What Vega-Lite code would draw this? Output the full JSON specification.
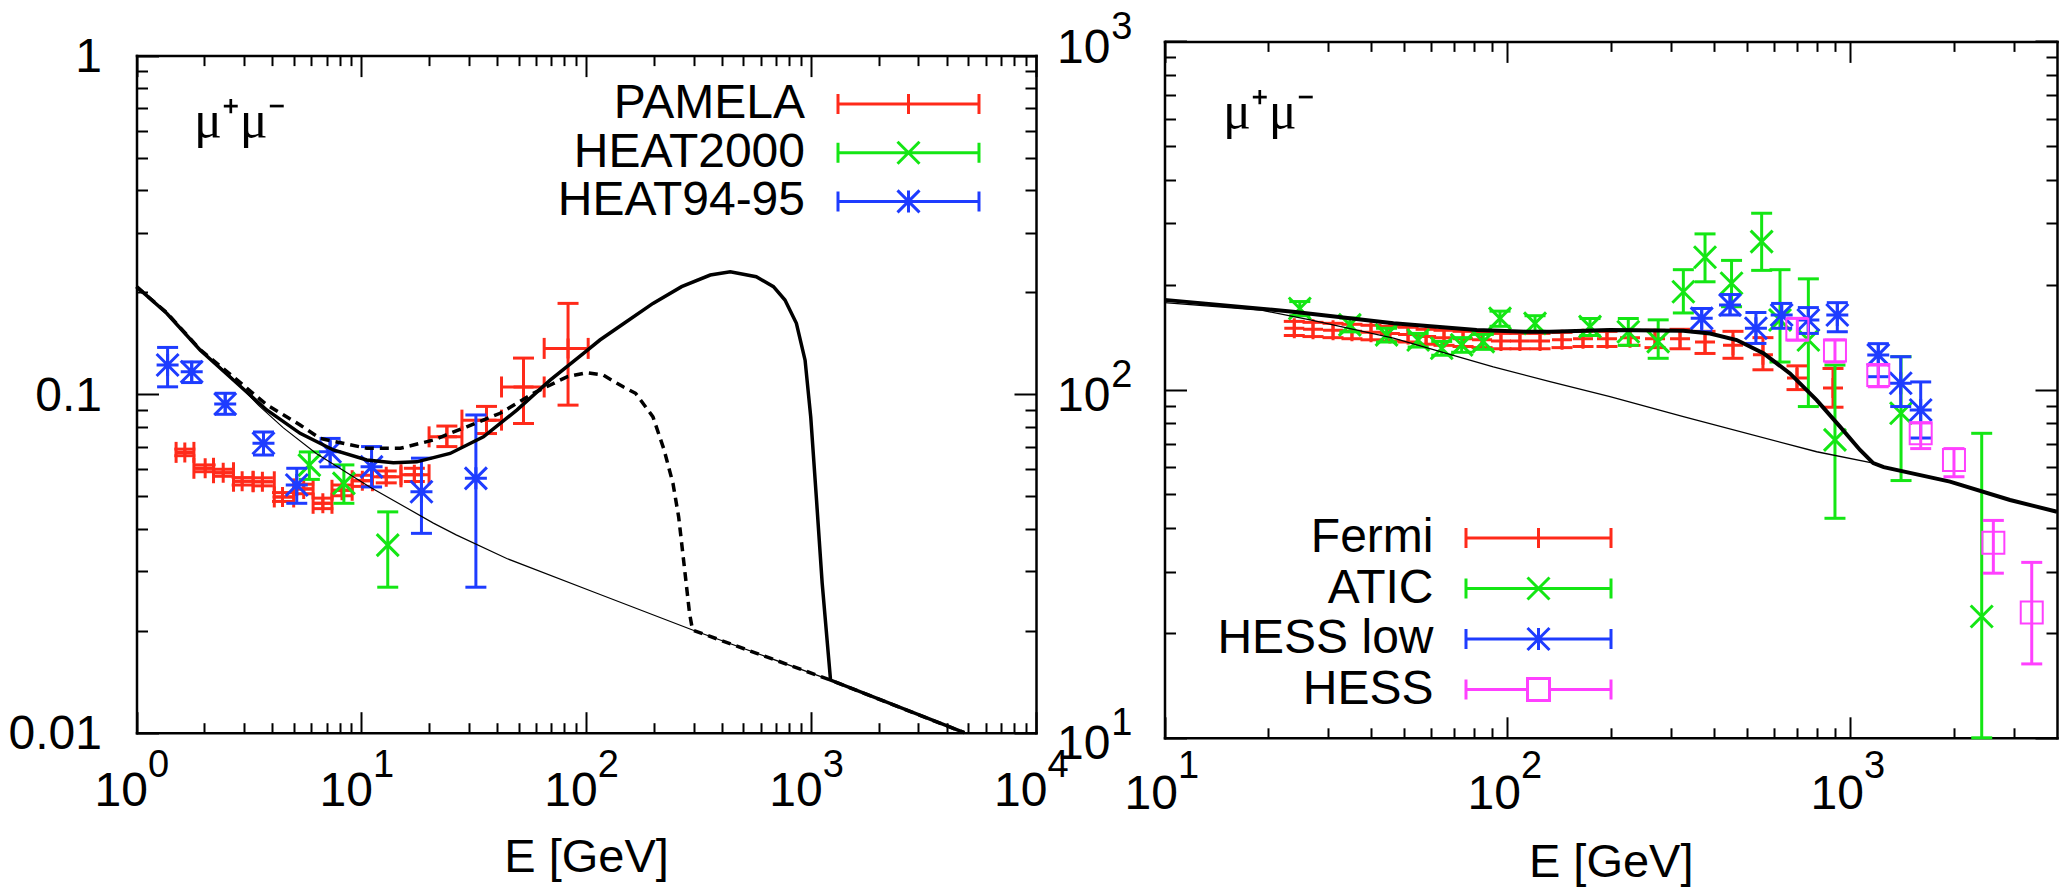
{
  "$schema": "https://vega.github.io/schema/vega-lite/v6.json",
  "width": 2059,
  "height": 890,
  "autosize": {"type": "none"},
  "padding": 0,
  "background": "white",
  "config": {
    "view": {"stroke": null},
    "axis": {
      "grid": false,
      "labelFont": "Liberation Sans",
      "labelColor": "black",
      "tickColor": "black",
      "domainColor": "black",
      "labelFlush": false,
      "labelOverlap": false,
      "titleFont": "Liberation Sans",
      "titleColor": "black",
      "titleFontWeight": "normal"
    }
  },
  "datasets": {
    "pamela": [
      {"E": 1.64, "y": 0.0673, "Elo": 1.5, "Ehi": 1.8, "ylo": 0.0658, "yhi": 0.0688},
      {"E": 2.02, "y": 0.0604, "Elo": 1.8, "Ehi": 2.2, "ylo": 0.059, "yhi": 0.0618},
      {"E": 2.43, "y": 0.0586, "Elo": 2.2, "Ehi": 2.7, "ylo": 0.0572, "yhi": 0.06},
      {"E": 2.95, "y": 0.0553, "Elo": 2.7, "Ehi": 3.3, "ylo": 0.0539, "yhi": 0.0567},
      {"E": 3.63, "y": 0.0551, "Elo": 3.3, "Ehi": 4.1, "ylo": 0.0536, "yhi": 0.0566},
      {"E": 4.46, "y": 0.0497, "Elo": 4.1, "Ehi": 5.0, "ylo": 0.0482, "yhi": 0.0512},
      {"E": 5.54, "y": 0.0525, "Elo": 5.0, "Ehi": 6.1, "ylo": 0.0508, "yhi": 0.0542},
      {"E": 6.74, "y": 0.0476, "Elo": 6.1, "Ehi": 7.4, "ylo": 0.0459, "yhi": 0.0493},
      {"E": 8.2, "y": 0.052, "Elo": 7.4, "Ehi": 9.1, "ylo": 0.0501, "yhi": 0.0539},
      {"E": 10.1, "y": 0.0555, "Elo": 9.1, "Ehi": 11.2, "ylo": 0.0534, "yhi": 0.0576},
      {"E": 12.9, "y": 0.057, "Elo": 11.2, "Ehi": 15.0, "ylo": 0.0547, "yhi": 0.0593},
      {"E": 17.2, "y": 0.0578, "Elo": 15.0, "Ehi": 20.0, "ylo": 0.0552, "yhi": 0.0604},
      {"E": 24.0, "y": 0.0748, "Elo": 20.0, "Ehi": 28.0, "ylo": 0.07, "yhi": 0.0805},
      {"E": 36.0, "y": 0.0838, "Elo": 28.0, "Ehi": 42.0, "ylo": 0.0765, "yhi": 0.092},
      {"E": 52.6, "y": 0.105, "Elo": 42.0, "Ehi": 65.0, "ylo": 0.0819, "yhi": 0.1278},
      {"E": 83.0, "y": 0.1365, "Elo": 65.0, "Ehi": 102.0, "ylo": 0.0928, "yhi": 0.1854}
    ],
    "heat2000": [
      {"E": 5.87, "y": 0.0617, "ylo": 0.056, "yhi": 0.0675},
      {"E": 8.36, "y": 0.0545, "ylo": 0.0476, "yhi": 0.0618},
      {"E": 13.1, "y": 0.0358, "ylo": 0.0269, "yhi": 0.0449}
    ],
    "heat9495": [
      {"E": 1.375, "y": 0.1219, "ylo": 0.1051, "yhi": 0.1374},
      {"E": 1.76, "y": 0.1165, "ylo": 0.1082, "yhi": 0.1245},
      {"E": 2.48, "y": 0.0935, "ylo": 0.0872, "yhi": 0.1006},
      {"E": 3.67, "y": 0.0716, "ylo": 0.0661, "yhi": 0.0773},
      {"E": 5.16, "y": 0.0539, "ylo": 0.0476, "yhi": 0.0604},
      {"E": 7.26, "y": 0.0676, "ylo": 0.061, "yhi": 0.074},
      {"E": 11.1, "y": 0.061, "ylo": 0.0532, "yhi": 0.07},
      {"E": 18.5, "y": 0.0515, "ylo": 0.0388, "yhi": 0.0647},
      {"E": 32.3, "y": 0.0564, "ylo": 0.0269, "yhi": 0.0868}
    ],
    "leftThin": [
      {"E": 1.0, "y": 0.208}, {"E": 1.36, "y": 0.173}, {"E": 1.92, "y": 0.135},
      {"E": 2.6, "y": 0.1135}, {"E": 3.5, "y": 0.0925}, {"E": 4.5, "y": 0.0795},
      {"E": 6.3, "y": 0.0668}, {"E": 10.85, "y": 0.0533}, {"E": 20.9, "y": 0.0416},
      {"E": 26.4, "y": 0.0384}, {"E": 44.3, "y": 0.0327}, {"E": 110, "y": 0.0259},
      {"E": 297, "y": 0.0201}, {"E": 1220, "y": 0.0143}, {"E": 4800, "y": 0.01}
    ],
    "leftThick": [
      {"E": 1.0, "y": 0.2077}, {"E": 1.362, "y": 0.1733}, {"E": 1.917, "y": 0.135},
      {"E": 2.696, "y": 0.1101}, {"E": 3.795, "y": 0.0898}, {"E": 5.34, "y": 0.0766},
      {"E": 7.51, "y": 0.0684}, {"E": 10.57, "y": 0.0639}, {"E": 13.88, "y": 0.0627},
      {"E": 17.64, "y": 0.0631}, {"E": 24.8, "y": 0.0668}, {"E": 34.9, "y": 0.0748},
      {"E": 49.1, "y": 0.0897}, {"E": 69.1, "y": 0.11}, {"E": 97.2, "y": 0.132},
      {"E": 115, "y": 0.1445}, {"E": 147.4, "y": 0.1619}, {"E": 198, "y": 0.1854},
      {"E": 265.5, "y": 0.2077}, {"E": 356, "y": 0.2248}, {"E": 437, "y": 0.2299},
      {"E": 570, "y": 0.2222}, {"E": 680, "y": 0.2077}, {"E": 765, "y": 0.1897},
      {"E": 860, "y": 0.1619}, {"E": 940, "y": 0.126}, {"E": 996, "y": 0.0857},
      {"E": 1057, "y": 0.0486}, {"E": 1120, "y": 0.0276}, {"E": 1220, "y": 0.0143},
      {"E": 4800, "y": 0.01}
    ],
    "leftDashed": [
      {"E": 1.0, "y": 0.2077}, {"E": 1.362, "y": 0.174}, {"E": 1.917, "y": 0.1355},
      {"E": 2.696, "y": 0.1125}, {"E": 3.795, "y": 0.093}, {"E": 5.34, "y": 0.0811},
      {"E": 6.55, "y": 0.074}, {"E": 10.57, "y": 0.0692}, {"E": 14.9, "y": 0.0692},
      {"E": 20.9, "y": 0.0732}, {"E": 29.4, "y": 0.0801}, {"E": 41.4, "y": 0.0878},
      {"E": 58.2, "y": 0.1006}, {"E": 82, "y": 0.1125}, {"E": 100.5, "y": 0.1157},
      {"E": 119, "y": 0.1138}, {"E": 146, "y": 0.1051}, {"E": 165.7, "y": 0.1006},
      {"E": 198, "y": 0.0857}, {"E": 222, "y": 0.0684}, {"E": 243, "y": 0.0545},
      {"E": 257.6, "y": 0.0434}, {"E": 273, "y": 0.0309}, {"E": 288, "y": 0.0225},
      {"E": 297, "y": 0.0201}, {"E": 1220, "y": 0.0143}, {"E": 4800, "y": 0.01}
    ],
    "fermi": [
      {"E": 23.9, "y": 150, "ylo": 143, "yhi": 157},
      {"E": 27.1, "y": 149, "ylo": 142, "yhi": 156},
      {"E": 31.0, "y": 148, "ylo": 141, "yhi": 155},
      {"E": 35.2, "y": 147, "ylo": 140, "yhi": 154},
      {"E": 40.0, "y": 146, "ylo": 139, "yhi": 153},
      {"E": 45.4, "y": 145, "ylo": 138, "yhi": 152},
      {"E": 51.3, "y": 144, "ylo": 137, "yhi": 151},
      {"E": 57.9, "y": 142, "ylo": 135, "yhi": 149},
      {"E": 65.3, "y": 141, "ylo": 134, "yhi": 148},
      {"E": 74.2, "y": 140, "ylo": 133, "yhi": 147},
      {"E": 84.3, "y": 139, "ylo": 132, "yhi": 146},
      {"E": 95.7, "y": 138, "ylo": 131, "yhi": 145},
      {"E": 108.7, "y": 138, "ylo": 131, "yhi": 145},
      {"E": 124.4, "y": 138, "ylo": 131, "yhi": 145},
      {"E": 144.2, "y": 139, "ylo": 132, "yhi": 146},
      {"E": 166.0, "y": 140, "ylo": 133, "yhi": 147},
      {"E": 195.0, "y": 140, "ylo": 133, "yhi": 147},
      {"E": 227.6, "y": 141, "ylo": 134, "yhi": 148},
      {"E": 269.2, "y": 140, "ylo": 132, "yhi": 148},
      {"E": 318.4, "y": 140, "ylo": 131, "yhi": 149},
      {"E": 376.6, "y": 137, "ylo": 127, "yhi": 147},
      {"E": 454.4, "y": 134, "ylo": 123, "yhi": 147},
      {"E": 555.6, "y": 126, "ylo": 114, "yhi": 141},
      {"E": 698.3, "y": 108, "ylo": 100, "yhi": 117},
      {"E": 889.2, "y": 101, "ylo": 89, "yhi": 115}
    ],
    "atic": [
      {"E": 24.8, "y": 171, "ylo": 163, "yhi": 179},
      {"E": 34.7, "y": 153.4, "ylo": 146.5, "yhi": 160.5},
      {"E": 44.4, "y": 143.6, "ylo": 137, "yhi": 150},
      {"E": 54.9, "y": 138.8, "ylo": 132.5, "yhi": 145},
      {"E": 64.3, "y": 131.5, "ylo": 125.5, "yhi": 137.5},
      {"E": 73.5, "y": 134.4, "ylo": 128, "yhi": 141},
      {"E": 85.0, "y": 137.3, "ylo": 130.5, "yhi": 144},
      {"E": 95.1, "y": 160.1, "ylo": 152, "yhi": 168},
      {"E": 120.3, "y": 155, "ylo": 147, "yhi": 163},
      {"E": 174, "y": 151.6, "ylo": 143, "yhi": 160},
      {"E": 225, "y": 146.6, "ylo": 134, "yhi": 160},
      {"E": 275, "y": 137.3, "ylo": 123, "yhi": 158.6},
      {"E": 325.6, "y": 191, "ylo": 166, "yhi": 221},
      {"E": 376.6, "y": 240, "ylo": 204, "yhi": 280},
      {"E": 450, "y": 202, "ylo": 173, "yhi": 235},
      {"E": 550.8, "y": 266, "ylo": 220, "yhi": 321},
      {"E": 623, "y": 158.5, "ylo": 120, "yhi": 221},
      {"E": 753.6, "y": 138.8, "ylo": 89.4, "yhi": 208},
      {"E": 901, "y": 71.7, "ylo": 42.7, "yhi": 117.6},
      {"E": 1404, "y": 85.5, "ylo": 54.8, "yhi": 124.3},
      {"E": 2413, "y": 22.3, "ylo": 10, "yhi": 74.9}
    ],
    "hesslow": [
      {"E": 368.3, "y": 160.2, "ylo": 146.7, "yhi": 171},
      {"E": 445.4, "y": 175, "ylo": 163.8, "yhi": 187.5},
      {"E": 530, "y": 150, "ylo": 135.7, "yhi": 166.5},
      {"E": 630, "y": 163.8, "ylo": 150, "yhi": 176.8},
      {"E": 753.6, "y": 158.5, "ylo": 145, "yhi": 172},
      {"E": 915.3, "y": 163.8, "ylo": 146.6, "yhi": 177.7},
      {"E": 1205, "y": 125.8, "ylo": 108.9, "yhi": 135.5},
      {"E": 1401, "y": 104.3, "ylo": 89.4, "yhi": 124.3},
      {"E": 1602, "y": 87.4, "ylo": 72.6, "yhi": 105.2}
    ],
    "hess": [
      {"E": 699.8, "y": 148.9, "ylo": 138.8, "yhi": 160.2},
      {"E": 901, "y": 129.4, "ylo": 120, "yhi": 138.8},
      {"E": 1205, "y": 110.2, "ylo": 101.9, "yhi": 117.6},
      {"E": 1602, "y": 74.9, "ylo": 67.7, "yhi": 80.2},
      {"E": 2003, "y": 62.8, "ylo": 56.2, "yhi": 67.7},
      {"E": 2609, "y": 36.3, "ylo": 29.7, "yhi": 42.1},
      {"E": 3376, "y": 22.9, "ylo": 16.3, "yhi": 31.9}
    ],
    "rightThin": [
      {"E": 10, "y": 177.8}, {"E": 19.0, "y": 169.3}, {"E": 26.6, "y": 158.5},
      {"E": 46.5, "y": 140.5}, {"E": 90.9, "y": 116.3}, {"E": 133, "y": 105.4},
      {"E": 199, "y": 95.4}, {"E": 325.6, "y": 83.6}, {"E": 797, "y": 66.3},
      {"E": 1165, "y": 61.5}, {"E": 1250, "y": 59.9}, {"E": 1950, "y": 54.4},
      {"E": 2918, "y": 48.2}, {"E": 4000, "y": 44.6}
    ],
    "rightThick": [
      {"E": 10, "y": 181}, {"E": 23.7, "y": 167.4}, {"E": 46.5, "y": 155.1},
      {"E": 81.3, "y": 148.3}, {"E": 113.8, "y": 146.6}, {"E": 133, "y": 146.6},
      {"E": 199, "y": 148.3}, {"E": 325.6, "y": 147.6}, {"E": 389.4, "y": 144.9},
      {"E": 466, "y": 138.8}, {"E": 557, "y": 127.2}, {"E": 666, "y": 111.3},
      {"E": 797, "y": 93.3}, {"E": 932, "y": 78.3}, {"E": 1066, "y": 67.1},
      {"E": 1165, "y": 61.5}, {"E": 1250, "y": 59.9}, {"E": 1950, "y": 54.4},
      {"E": 2918, "y": 48.2}, {"E": 4000, "y": 44.6}
    ],
    "leftSeries": [{"series": "PAMELA"}, {"series": "HEAT2000"}, {"series": "HEAT94-95"}],
    "rightSeries": [{"series": "Fermi"}, {"series": "ATIC"}, {"series": "HESS low"}, {"series": "HESS"}],
    "channel": [{"label": "μ⁺μ⁻"}]
  },
  "resolve": {
    "scale": {"x": "independent", "y": "independent", "color": "independent", "shape": "independent"},
    "axis": {"x": "independent", "y": "independent"},
    "legend": {"color": "independent", "shape": "independent"}
  },
  "layer": [
    {
      "resolve": {"axis": {"x": "independent", "y": "independent"}},
      "layer": [
        {
          "data": {"name": "pamela"},
          "mark": {"type": "rule", "color": "#ff2a1a", "strokeWidth": 3},
          "encoding": {
            "x": {"field": "Elo", "type": "quantitative", "scale": {"type": "log", "domain": [1, 10000], "range": [136.5, 1036], "nice": false}, "axis": null},
            "x2": {"field": "Ehi"},
            "y": {"field": "y", "type": "quantitative", "scale": {"type": "log", "domain": [0.01, 1], "range": [732.7, 55.6], "nice": false}, "axis": null}
          }
        },
        {
          "data": {"name": "pamela"},
          "mark": {"type": "rule", "color": "#ff2a1a", "strokeWidth": 3},
          "encoding": {
            "x": {"field": "E", "type": "quantitative", "scale": {"type": "log", "domain": [1, 10000], "range": [136.5, 1036], "nice": false},
              "axis": {"orient": "top", "offset": -55.6, "values": [1,2,3,4,5,6,7,8,9,10,20,30,40,50,60,70,80,90,100,200,300,400,500,600,700,800,900,1000,2000,3000,4000,5000,6000,7000,8000,9000,10000],
                "labels": false, "ticks": true, "tickWidth": 2,
                "tickSize": {"condition": {"test": "abs(log(datum.value)/LN10 - round(log(datum.value)/LN10)) < 0.001", "value": -21}, "value": -10},
                "domain": true, "domainWidth": 2.5, "domainCap": "square", "title": null}},
            "y": {"field": "ylo", "type": "quantitative", "scale": {"type": "log", "domain": [0.01, 1], "range": [732.7, 55.6], "nice": false},
              "axis": {"orient": "right", "offset": -1023, "values": [0.01,0.02,0.03,0.04,0.05,0.06,0.07,0.08,0.09,0.1,0.2,0.3,0.4,0.5,0.6,0.7,0.8,0.9,1],
                "labels": false, "ticks": true, "tickWidth": 2,
                "tickSize": {"condition": {"test": "abs(log(datum.value)/LN10 - round(log(datum.value)/LN10)) < 0.001", "value": -22}, "value": -11},
                "domain": true, "domainWidth": 2.5, "domainCap": "square", "title": null}},
            "y2": {"field": "yhi"}
          }
        },
        {
          "data": {"name": "pamela"},
          "transform": [{"fold": ["Elo", "Ehi"], "as": ["k", "xc"]}],
          "mark": {"type": "tick", "orient": "vertical", "color": "#ff2a1a", "size": 21, "thickness": 3, "opacity": 1},
          "encoding": {
            "x": {"field": "xc", "type": "quantitative", "scale": {"type": "log", "domain": [1, 10000], "range": [136.5, 1036], "nice": false}, "axis": null},
            "y": {"field": "y", "type": "quantitative", "scale": {"type": "log", "domain": [0.01, 1], "range": [732.7, 55.6], "nice": false}, "axis": null}
          }
        },
        {
          "data": {"name": "pamela"},
          "transform": [{"fold": ["ylo", "yhi"], "as": ["k", "yc"]}],
          "mark": {"type": "tick", "orient": "horizontal", "color": "#ff2a1a", "size": 21, "thickness": 3, "opacity": 1},
          "encoding": {
            "x": {"field": "E", "type": "quantitative", "scale": {"type": "log", "domain": [1, 10000], "range": [136.5, 1036], "nice": false}, "axis": null},
            "y": {"field": "yc", "type": "quantitative", "scale": {"type": "log", "domain": [0.01, 1], "range": [732.7, 55.6], "nice": false}, "axis": null}
          }
        },
        {
          "data": {"name": "pamela"},
          "mark": {"type": "point", "shape": "M-1,0L1,0M0,-1L0,1", "size": 400, "filled": false, "color": "#ff2a1a", "strokeWidth": 3, "opacity": 1},
          "encoding": {
            "x": {"field": "E", "type": "quantitative", "scale": {"type": "log", "domain": [1, 10000], "range": [136.5, 1036], "nice": false}, "axis": null},
            "y": {"field": "y", "type": "quantitative", "scale": {"type": "log", "domain": [0.01, 1], "range": [732.7, 55.6], "nice": false}, "axis": null}
          }
        },
        {
          "data": {"name": "heat2000"},
          "mark": {"type": "rule", "color": "#14e614", "strokeWidth": 3},
          "encoding": {
            "x": {"field": "E", "type": "quantitative", "scale": {"type": "log", "domain": [1, 10000], "range": [136.5, 1036], "nice": false}, "axis": null},
            "y": {"field": "ylo", "type": "quantitative", "scale": {"type": "log", "domain": [0.01, 1], "range": [732.7, 55.6], "nice": false}, "axis": null},
            "y2": {"field": "yhi"}
          }
        },
        {
          "data": {"name": "heat2000"},
          "transform": [{"fold": ["ylo", "yhi"], "as": ["k", "yc"]}],
          "mark": {"type": "tick", "orient": "horizontal", "color": "#14e614", "size": 21, "thickness": 3, "opacity": 1},
          "encoding": {
            "x": {"field": "E", "type": "quantitative", "scale": {"type": "log", "domain": [1, 10000], "range": [136.5, 1036], "nice": false}, "axis": null},
            "y": {"field": "yc", "type": "quantitative", "scale": {"type": "log", "domain": [0.01, 1], "range": [732.7, 55.6], "nice": false}, "axis": null}
          }
        },
        {
          "data": {"name": "heat2000"},
          "mark": {"type": "point", "shape": "M-1,-1L1,1M-1,1L1,-1", "size": 484, "filled": false, "color": "#14e614", "strokeWidth": 3, "opacity": 1},
          "encoding": {
            "x": {"field": "E", "type": "quantitative", "scale": {"type": "log", "domain": [1, 10000], "range": [136.5, 1036], "nice": false}, "axis": null},
            "y": {"field": "y", "type": "quantitative", "scale": {"type": "log", "domain": [0.01, 1], "range": [732.7, 55.6], "nice": false}, "axis": null}
          }
        },
        {
          "data": {"name": "heat9495"},
          "mark": {"type": "rule", "color": "#1e3cff", "strokeWidth": 3},
          "encoding": {
            "x": {"field": "E", "type": "quantitative", "scale": {"type": "log", "domain": [1, 10000], "range": [136.5, 1036], "nice": false}, "axis": null},
            "y": {"field": "ylo", "type": "quantitative", "scale": {"type": "log", "domain": [0.01, 1], "range": [732.7, 55.6], "nice": false}, "axis": null},
            "y2": {"field": "yhi"}
          }
        },
        {
          "data": {"name": "heat9495"},
          "transform": [{"fold": ["ylo", "yhi"], "as": ["k", "yc"]}],
          "mark": {"type": "tick", "orient": "horizontal", "color": "#1e3cff", "size": 21, "thickness": 3, "opacity": 1},
          "encoding": {
            "x": {"field": "E", "type": "quantitative", "scale": {"type": "log", "domain": [1, 10000], "range": [136.5, 1036], "nice": false}, "axis": null},
            "y": {"field": "yc", "type": "quantitative", "scale": {"type": "log", "domain": [0.01, 1], "range": [732.7, 55.6], "nice": false}, "axis": null}
          }
        },
        {
          "data": {"name": "heat9495"},
          "mark": {"type": "point", "shape": "M-1,0L1,0M0,-1L0,1M-1,-1L1,1M-1,1L1,-1", "size": 484, "filled": false, "color": "#1e3cff", "strokeWidth": 3, "opacity": 1},
          "encoding": {
            "x": {"field": "E", "type": "quantitative", "scale": {"type": "log", "domain": [1, 10000], "range": [136.5, 1036], "nice": false}, "axis": null},
            "y": {"field": "y", "type": "quantitative", "scale": {"type": "log", "domain": [0.01, 1], "range": [732.7, 55.6], "nice": false}, "axis": null}
          }
        },
        {
          "data": {"name": "leftThin"},
          "mark": {"type": "line", "color": "black", "strokeWidth": 1.2},
          "encoding": {
            "x": {"field": "E", "type": "quantitative", "scale": {"type": "log", "domain": [1, 10000], "range": [136.5, 1036], "nice": false},
              "axis": {"orient": "bottom", "offset": -157.3, "values": [1, 10, 100, 1000, 10000], "labelExpr": "'10'",
                "ticks": false, "tickSize": 0, "domain": false, "labelAlign": "right", "labelOffset": 11, "labelBaseline": "alphabetic",
                "labelPadding": 73, "labelFontSize": 48,
                "title": "E [GeV]", "titleX": 586, "titleY": 139, "titleAlign": "center", "titleBaseline": "alphabetic", "titleFontSize": 47, "titleAngle": 0}},
            "y": {"field": "y", "type": "quantitative", "scale": {"type": "log", "domain": [0.01, 1], "range": [732.7, 55.6], "nice": false},
              "axis": {"orient": "left", "offset": -136.5, "values": [0.01, 0.1, 1],
                "labelExpr": "datum.value > 0.5 ? '1' : datum.value > 0.05 ? '0.1' : '0.01'",
                "ticks": false, "tickSize": 0, "domain": false, "labelAlign": "right", "labelBaseline": "middle",
                "labelPadding": 35, "labelOffset": 2, "labelFontSize": 48, "title": null}}
          }
        },
        {
          "data": {"name": "leftThick"},
          "mark": {"type": "line", "color": "black", "strokeWidth": 3.5},
          "encoding": {
            "x": {"field": "E", "type": "quantitative", "scale": {"type": "log", "domain": [1, 10000], "range": [136.5, 1036], "nice": false},
              "axis": {"orient": "bottom", "offset": -157.3, "values": [1, 10, 100, 1000, 10000],
                "labelExpr": "'' + round(log(datum.value) / LN10)",
                "ticks": false, "tickSize": 0, "domain": false, "labelAlign": "left", "labelOffset": 11, "labelBaseline": "alphabetic",
                "labelPadding": 44, "labelFontSize": 38, "title": null}},
            "y": {"field": "y", "type": "quantitative", "scale": {"type": "log", "domain": [0.01, 1], "range": [732.7, 55.6], "nice": false}, "axis": null}
          }
        },
        {
          "data": {"name": "leftDashed"},
          "mark": {"type": "line", "color": "black", "strokeWidth": 3.5, "strokeDash": [9, 6]},
          "encoding": {
            "x": {"field": "E", "type": "quantitative", "scale": {"type": "log", "domain": [1, 10000], "range": [136.5, 1036], "nice": false},
              "axis": {"orient": "bottom", "offset": -157.3, "values": [1,2,3,4,5,6,7,8,9,10,20,30,40,50,60,70,80,90,100,200,300,400,500,600,700,800,900,1000,2000,3000,4000,5000,6000,7000,8000,9000,10000],
                "labels": false, "ticks": true, "tickWidth": 2,
                "tickSize": {"condition": {"test": "abs(log(datum.value)/LN10 - round(log(datum.value)/LN10)) < 0.001", "value": -21}, "value": -10},
                "domain": true, "domainWidth": 2.5, "domainCap": "square", "title": null}},
            "y": {"field": "y", "type": "quantitative", "scale": {"type": "log", "domain": [0.01, 1], "range": [732.7, 55.6], "nice": false},
              "axis": {"orient": "left", "offset": -136.5, "values": [0.01,0.02,0.03,0.04,0.05,0.06,0.07,0.08,0.09,0.1,0.2,0.3,0.4,0.5,0.6,0.7,0.8,0.9,1],
                "labels": false, "ticks": true, "tickWidth": 2,
                "tickSize": {"condition": {"test": "abs(log(datum.value)/LN10 - round(log(datum.value)/LN10)) < 0.001", "value": -22}, "value": -11},
                "domain": true, "domainWidth": 2.5, "domainCap": "square", "title": null}}
          }
        },
        {
          "data": {"name": "channel"},
          "mark": {"type": "text", "font": "Liberation Serif", "fontSize": 52, "align": "left", "baseline": "alphabetic", "color": "black"},
          "encoding": {
            "text": {"field": "label"},
            "x": {"datum": 1.8, "type": "quantitative", "scale": {"type": "log", "domain": [1, 10000], "range": [136.5, 1036], "nice": false}, "axis": null},
            "y": {"datum": 0.575, "type": "quantitative", "scale": {"type": "log", "domain": [0.01, 1], "range": [732.7, 55.6], "nice": false}, "axis": null}
          }
        },
        {
          "data": {"name": "leftSeries"},
          "transform": [{"filter": "false"}],
          "mark": {"type": "point", "filled": false, "strokeWidth": 3},
          "encoding": {
            "color": {"field": "series", "type": "nominal",
              "scale": {"domain": ["PAMELA", "HEAT2000", "HEAT94-95"], "range": ["#ff2a1a", "#14e614", "#1e3cff"]},
              "legend": {"orient": "none", "legendX": 884.5, "legendY": 80, "title": null, "symbolSize": 1936, "symbolStrokeWidth": 3,
                "symbolOpacity": 1, "labelFont": "Liberation Sans", "labelFontSize": 48, "labelColor": "black", "labelAlign": "right",
                "labelOffset": -127.5, "labelLimit": 800, "rowPadding": 0.7, "padding": 0}},
            "shape": {"field": "series", "type": "nominal",
              "scale": {"domain": ["PAMELA", "HEAT2000", "HEAT94-95"], "range": [
                "M-3.2045,0L3.2045,0M-3.2045,-0.4545L-3.2045,0.4545M3.2045,-0.4545L3.2045,0.4545M0,-0.4545L0,0.4545",
                "M-3.2045,0L3.2045,0M-3.2045,-0.4545L-3.2045,0.4545M3.2045,-0.4545L3.2045,0.4545M-0.5,-0.5L0.5,0.5M-0.5,0.5L0.5,-0.5",
                "M-3.2045,0L3.2045,0M-3.2045,-0.4545L-3.2045,0.4545M3.2045,-0.4545L3.2045,0.4545M0,-0.5L0,0.5M-0.5,-0.5L0.5,0.5M-0.5,0.5L0.5,-0.5"]},
              "legend": {"orient": "none", "legendX": 884.5, "legendY": 80, "title": null, "symbolSize": 1936, "symbolStrokeWidth": 3,
                "symbolOpacity": 1, "labelFont": "Liberation Sans", "labelFontSize": 48, "labelColor": "black", "labelAlign": "right",
                "labelOffset": -127.5, "labelLimit": 800, "rowPadding": 0.7, "padding": 0}}
          }
        }
      ]
    },
    {
      "resolve": {"axis": {"x": "independent", "y": "independent"}},
      "layer": [
        {
          "data": {"name": "fermi"},
          "mark": {"type": "rule", "color": "#ff2a1a", "strokeWidth": 3},
          "encoding": {
            "x": {"field": "E", "type": "quantitative", "scale": {"type": "log", "domain": [10, 4000], "range": [1164.5, 2057], "nice": false},
              "axis": {"orient": "bottom", "offset": -152.2, "values": [10,20,30,40,50,60,70,80,90,100,200,300,400,500,600,700,800,900,1000,2000,3000],
                "labels": false, "ticks": true, "tickWidth": 2,
                "tickSize": {"condition": {"test": "abs(log(datum.value)/LN10 - round(log(datum.value)/LN10)) < 0.001", "value": -21}, "value": -10},
                "domain": true, "domainWidth": 2.5, "domainCap": "square", "title": null}},
            "y": {"field": "ylo", "type": "quantitative", "scale": {"type": "log", "domain": [10, 1000], "range": [737.8, 41.4], "nice": false},
              "axis": {"orient": "left", "offset": -1164.5, "values": [10,20,30,40,50,60,70,80,90,100,200,300,400,500,600,700,800,900,1000],
                "labels": false, "ticks": true, "tickWidth": 2,
                "tickSize": {"condition": {"test": "abs(log(datum.value)/LN10 - round(log(datum.value)/LN10)) < 0.001", "value": -22}, "value": -11},
                "domain": true, "domainWidth": 2.5, "domainCap": "square", "title": null}},
            "y2": {"field": "yhi"}
          }
        },
        {
          "data": {"name": "fermi"},
          "transform": [{"fold": ["ylo", "yhi"], "as": ["k", "yc"]}],
          "mark": {"type": "tick", "orient": "horizontal", "color": "#ff2a1a", "size": 21, "thickness": 3, "opacity": 1},
          "encoding": {
            "x": {"field": "E", "type": "quantitative", "scale": {"type": "log", "domain": [10, 4000], "range": [1164.5, 2057], "nice": false}, "axis": null},
            "y": {"field": "yc", "type": "quantitative", "scale": {"type": "log", "domain": [10, 1000], "range": [737.8, 41.4], "nice": false}, "axis": null}
          }
        },
        {
          "data": {"name": "fermi"},
          "mark": {"type": "point", "shape": "M-1,0L1,0M0,-1L0,1", "size": 400, "filled": false, "color": "#ff2a1a", "strokeWidth": 3, "opacity": 1},
          "encoding": {
            "x": {"field": "E", "type": "quantitative", "scale": {"type": "log", "domain": [10, 4000], "range": [1164.5, 2057], "nice": false}, "axis": null},
            "y": {"field": "y", "type": "quantitative", "scale": {"type": "log", "domain": [10, 1000], "range": [737.8, 41.4], "nice": false}, "axis": null}
          }
        },
        {
          "data": {"name": "atic"},
          "mark": {"type": "rule", "color": "#14e614", "strokeWidth": 3},
          "encoding": {
            "x": {"field": "E", "type": "quantitative", "scale": {"type": "log", "domain": [10, 4000], "range": [1164.5, 2057], "nice": false},
              "axis": {"orient": "top", "offset": -41.4, "values": [10,20,30,40,50,60,70,80,90,100,200,300,400,500,600,700,800,900,1000,2000,3000],
                "labels": false, "ticks": true, "tickWidth": 2,
                "tickSize": {"condition": {"test": "abs(log(datum.value)/LN10 - round(log(datum.value)/LN10)) < 0.001", "value": -21}, "value": -10},
                "domain": true, "domainWidth": 2.5, "domainCap": "square", "title": null}},
            "y": {"field": "ylo", "type": "quantitative", "scale": {"type": "log", "domain": [10, 1000], "range": [737.8, 41.4], "nice": false},
              "axis": {"orient": "right", "offset": -2, "values": [10,20,30,40,50,60,70,80,90,100,200,300,400,500,600,700,800,900,1000],
                "labels": false, "ticks": true, "tickWidth": 2,
                "tickSize": {"condition": {"test": "abs(log(datum.value)/LN10 - round(log(datum.value)/LN10)) < 0.001", "value": -22}, "value": -11},
                "domain": true, "domainWidth": 2.5, "domainCap": "square", "title": null}},
            "y2": {"field": "yhi"}
          }
        },
        {
          "data": {"name": "atic"},
          "transform": [{"fold": ["ylo", "yhi"], "as": ["k", "yc"]}],
          "mark": {"type": "tick", "orient": "horizontal", "color": "#14e614", "size": 21, "thickness": 3, "opacity": 1},
          "encoding": {
            "x": {"field": "E", "type": "quantitative", "scale": {"type": "log", "domain": [10, 4000], "range": [1164.5, 2057], "nice": false}, "axis": null},
            "y": {"field": "yc", "type": "quantitative", "scale": {"type": "log", "domain": [10, 1000], "range": [737.8, 41.4], "nice": false}, "axis": null}
          }
        },
        {
          "data": {"name": "atic"},
          "mark": {"type": "point", "shape": "M-1,-1L1,1M-1,1L1,-1", "size": 484, "filled": false, "color": "#14e614", "strokeWidth": 3, "opacity": 1},
          "encoding": {
            "x": {"field": "E", "type": "quantitative", "scale": {"type": "log", "domain": [10, 4000], "range": [1164.5, 2057], "nice": false}, "axis": null},
            "y": {"field": "y", "type": "quantitative", "scale": {"type": "log", "domain": [10, 1000], "range": [737.8, 41.4], "nice": false}, "axis": null}
          }
        },
        {
          "data": {"name": "hesslow"},
          "mark": {"type": "rule", "color": "#1e3cff", "strokeWidth": 3},
          "encoding": {
            "x": {"field": "E", "type": "quantitative", "scale": {"type": "log", "domain": [10, 4000], "range": [1164.5, 2057], "nice": false}, "axis": null},
            "y": {"field": "ylo", "type": "quantitative", "scale": {"type": "log", "domain": [10, 1000], "range": [737.8, 41.4], "nice": false}, "axis": null},
            "y2": {"field": "yhi"}
          }
        },
        {
          "data": {"name": "hesslow"},
          "transform": [{"fold": ["ylo", "yhi"], "as": ["k", "yc"]}],
          "mark": {"type": "tick", "orient": "horizontal", "color": "#1e3cff", "size": 21, "thickness": 3, "opacity": 1},
          "encoding": {
            "x": {"field": "E", "type": "quantitative", "scale": {"type": "log", "domain": [10, 4000], "range": [1164.5, 2057], "nice": false}, "axis": null},
            "y": {"field": "yc", "type": "quantitative", "scale": {"type": "log", "domain": [10, 1000], "range": [737.8, 41.4], "nice": false}, "axis": null}
          }
        },
        {
          "data": {"name": "hesslow"},
          "mark": {"type": "point", "shape": "M-1,0L1,0M0,-1L0,1M-1,-1L1,1M-1,1L1,-1", "size": 484, "filled": false, "color": "#1e3cff", "strokeWidth": 3, "opacity": 1},
          "encoding": {
            "x": {"field": "E", "type": "quantitative", "scale": {"type": "log", "domain": [10, 4000], "range": [1164.5, 2057], "nice": false}, "axis": null},
            "y": {"field": "y", "type": "quantitative", "scale": {"type": "log", "domain": [10, 1000], "range": [737.8, 41.4], "nice": false}, "axis": null}
          }
        },
        {
          "data": {"name": "hess"},
          "mark": {"type": "rule", "color": "#ff40ff", "strokeWidth": 3},
          "encoding": {
            "x": {"field": "E", "type": "quantitative", "scale": {"type": "log", "domain": [10, 4000], "range": [1164.5, 2057], "nice": false}, "axis": null},
            "y": {"field": "ylo", "type": "quantitative", "scale": {"type": "log", "domain": [10, 1000], "range": [737.8, 41.4], "nice": false}, "axis": null},
            "y2": {"field": "yhi"}
          }
        },
        {
          "data": {"name": "hess"},
          "transform": [{"fold": ["ylo", "yhi"], "as": ["k", "yc"]}],
          "mark": {"type": "tick", "orient": "horizontal", "color": "#ff40ff", "size": 21, "thickness": 3, "opacity": 1},
          "encoding": {
            "x": {"field": "E", "type": "quantitative", "scale": {"type": "log", "domain": [10, 4000], "range": [1164.5, 2057], "nice": false}, "axis": null},
            "y": {"field": "yc", "type": "quantitative", "scale": {"type": "log", "domain": [10, 1000], "range": [737.8, 41.4], "nice": false}, "axis": null}
          }
        },
        {
          "data": {"name": "hess"},
          "mark": {"type": "point", "shape": "M-1,-1L1,-1L1,1L-1,1Z", "size": 484, "filled": false, "color": "#ff40ff", "strokeWidth": 2, "opacity": 1},
          "encoding": {
            "x": {"field": "E", "type": "quantitative", "scale": {"type": "log", "domain": [10, 4000], "range": [1164.5, 2057], "nice": false}, "axis": null},
            "y": {"field": "y", "type": "quantitative", "scale": {"type": "log", "domain": [10, 1000], "range": [737.8, 41.4], "nice": false}, "axis": null}
          }
        },
        {
          "data": {"name": "rightThin"},
          "mark": {"type": "line", "color": "black", "strokeWidth": 1.3},
          "encoding": {
            "x": {"field": "E", "type": "quantitative", "scale": {"type": "log", "domain": [10, 4000], "range": [1164.5, 2057], "nice": false},
              "axis": {"orient": "bottom", "offset": -152.2, "values": [10, 100, 1000], "labelExpr": "'10'",
                "ticks": false, "tickSize": 0, "domain": false, "labelAlign": "right", "labelOffset": 13, "labelBaseline": "alphabetic",
                "labelPadding": 71, "labelFontSize": 48,
                "title": "E [GeV]", "titleX": 1610.7, "titleY": 138.7, "titleAlign": "center", "titleBaseline": "alphabetic", "titleFontSize": 47, "titleAngle": 0}},
            "y": {"field": "y", "type": "quantitative", "scale": {"type": "log", "domain": [10, 1000], "range": [737.8, 41.4], "nice": false},
              "axis": {"orient": "left", "offset": -1164.5, "values": [10, 100, 1000], "labelExpr": "'10'",
                "ticks": false, "tickSize": 0, "domain": false, "labelAlign": "right", "labelBaseline": "middle",
                "labelPadding": 54.5, "labelOffset": 7, "labelFontSize": 48, "title": null}}
          }
        },
        {
          "data": {"name": "rightThick"},
          "mark": {"type": "line", "color": "black", "strokeWidth": 4},
          "encoding": {
            "x": {"field": "E", "type": "quantitative", "scale": {"type": "log", "domain": [10, 4000], "range": [1164.5, 2057], "nice": false},
              "axis": {"orient": "bottom", "offset": -152.2, "values": [10, 100, 1000],
                "labelExpr": "'' + round(log(datum.value) / LN10)",
                "ticks": false, "tickSize": 0, "domain": false, "labelAlign": "left", "labelOffset": 13, "labelBaseline": "alphabetic",
                "labelPadding": 40, "labelFontSize": 38, "title": null}},
            "y": {"field": "y", "type": "quantitative", "scale": {"type": "log", "domain": [10, 1000], "range": [737.8, 41.4], "nice": false},
              "axis": {"orient": "left", "offset": -1164.5, "values": [10, 100, 1000],
                "labelExpr": "'' + round(log(datum.value) / LN10)",
                "ticks": false, "tickSize": 0, "domain": false, "labelAlign": "right", "labelBaseline": "middle",
                "labelPadding": 32.5, "labelOffset": -14, "labelFontSize": 38, "title": null}}
          }
        },
        {
          "data": {"name": "channel"},
          "mark": {"type": "text", "font": "Liberation Serif", "fontSize": 52, "align": "left", "baseline": "alphabetic", "color": "black"},
          "encoding": {
            "text": {"field": "label"},
            "x": {"datum": 14.8, "type": "quantitative", "scale": {"type": "log", "domain": [10, 4000], "range": [1164.5, 2057], "nice": false}, "axis": null},
            "y": {"datum": 564, "type": "quantitative", "scale": {"type": "log", "domain": [10, 1000], "range": [737.8, 41.4], "nice": false}, "axis": null}
          }
        },
        {
          "data": {"name": "rightSeries"},
          "transform": [{"filter": "false"}],
          "mark": {"type": "point", "filled": false, "strokeWidth": 3},
          "encoding": {
            "color": {"field": "series", "type": "nominal",
              "scale": {"domain": ["Fermi", "ATIC", "HESS low", "HESS"], "range": ["#ff2a1a", "#14e614", "#1e3cff", "#ff40ff"]},
              "legend": {"orient": "none", "legendX": 1514.5, "legendY": 514, "title": null, "symbolSize": 1936, "symbolStrokeWidth": 3,
                "symbolOpacity": 1, "labelFont": "Liberation Sans", "labelFontSize": 48, "labelColor": "black", "labelAlign": "right",
                "labelOffset": -129, "labelLimit": 800, "rowPadding": 2.5, "padding": 0}},
            "shape": {"field": "series", "type": "nominal",
              "scale": {"domain": ["Fermi", "ATIC", "HESS low", "HESS"], "range": [
                "M-3.2955,0L3.2955,0M-3.2955,-0.4545L-3.2955,0.4545M3.2955,-0.4545L3.2955,0.4545M0,-0.4545L0,0.4545",
                "M-3.2955,0L3.2955,0M-3.2955,-0.4545L-3.2955,0.4545M3.2955,-0.4545L3.2955,0.4545M-0.5,-0.5L0.5,0.5M-0.5,0.5L0.5,-0.5",
                "M-3.2955,0L3.2955,0M-3.2955,-0.4545L-3.2955,0.4545M3.2955,-0.4545L3.2955,0.4545M0,-0.5L0,0.5M-0.5,-0.5L0.5,0.5M-0.5,0.5L0.5,-0.5",
                "M-3.2955,0L-0.5,0M0.5,0L3.2955,0M-3.2955,-0.4545L-3.2955,0.4545M3.2955,-0.4545L3.2955,0.4545M-0.5,-0.5L0.5,-0.5L0.5,0.5L-0.5,0.5Z"]},
              "legend": {"orient": "none", "legendX": 1514.5, "legendY": 514, "title": null, "symbolSize": 1936, "symbolStrokeWidth": 3,
                "symbolOpacity": 1, "labelFont": "Liberation Sans", "labelFontSize": 48, "labelColor": "black", "labelAlign": "right",
                "labelOffset": -129, "labelLimit": 800, "rowPadding": 2.5, "padding": 0}}
          }
        }
      ]
    }
  ]
}
